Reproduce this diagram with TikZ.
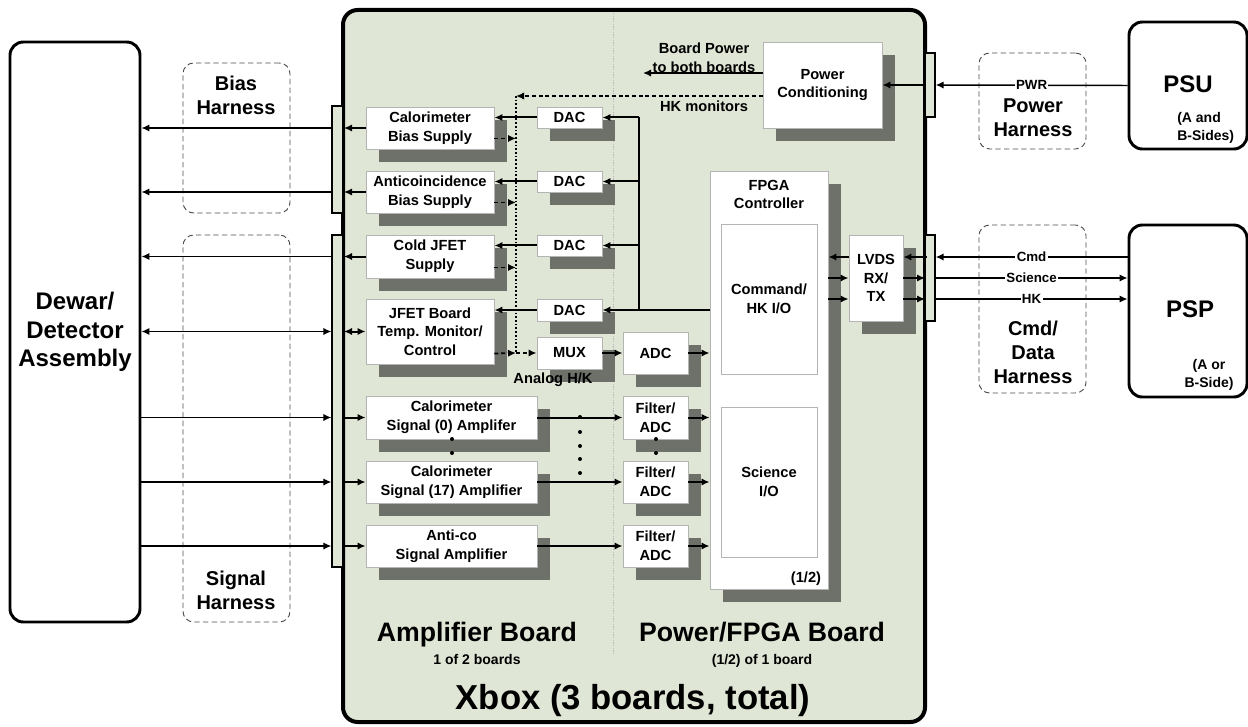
\documentclass[tikz,border=0pt]{standalone}
\usepackage{fontspec}
\setmainfont{Liberation Sans}
\usetikzlibrary{fit,calc,arrows.meta}
\definecolor{xfill}{HTML}{DFE6D5}
\definecolor{shc}{HTML}{6E706A}
\definecolor{bgr}{HTML}{B4B4B4}
\newcommand\shbox[6]{%
  \fill[shc] (#2+13,#3+13) rectangle (#4+13,#5+13);
  \node[wbox, fit={(#2,#3) (#4,#5)}] (#1) {};
  \node[lbl] at (#1.center) {#6};}
\newcommand\plainbox[6]{%
  \node[wbox, fit={(#2,#3) (#4,#5)}] (#1) {};
  \node[lbl] at (#1.center) {#6};}
\begin{document}
\begin{tikzpicture}[x=0.75pt,y=-0.75pt,
  >={Latex[length=6pt,width=5.5pt]},
  wbox/.style={draw=bgr, fill=white, line width=0.7pt, inner sep=0pt},
  harn/.style={draw=black!70, line width=0.7pt, dash pattern=on 4pt off 2.5pt,
    rounded corners=8pt, inner sep=0pt},
  extbox/.style={draw, line width=2.2pt, rounded corners=10pt, inner sep=0pt},
  strip/.style={draw, fill=xfill, line width=0.9pt, inner sep=0pt},
  wire/.style={line width=1.5pt},
  ewire/.style={line width=1.1pt},
  dwire/.style={line width=1.3pt, dash pattern=on 3pt off 2pt},
  lbl/.style={font=\bfseries\fontsize{11}{14}\selectfont, align=center, inner sep=0pt},
  tag/.style={font=\bfseries\fontsize{10}{12}\selectfont, fill=white, inner sep=1pt},
  big/.style={font=\bfseries\fontsize{18}{21.5}\selectfont, align=center, inner sep=0pt},
  hlbl/.style={font=\bfseries\fontsize{15}{18}\selectfont, align=center, inner sep=0pt},
  small/.style={font=\bfseries\fontsize{10.5}{13.5}\selectfont, align=left, inner sep=0pt}]
\useasboundingbox (0,0) rectangle (1248,727);

% ---------- Xbox ----------
\node[draw, line width=3pt, fill=xfill, rounded corners=11pt, inner sep=0pt,
      fit={(343,10) (925,722)}] (xbox) {};
\draw[gray!55, line width=0.6pt, dash pattern=on 1pt off 1pt] (613,13) -- (613,655);

% ---------- external units ----------
\node[extbox, fit={(10,42) (140,622)}] (dewar) {};
\node[big] at (75,332) {Dewar/\\Detector\\Assembly};
\node[extbox, fit={(1129,22) (1247,149)}] (psu) {};
\node[big] at (1188,84) {PSU};
\node[small, anchor=west] at (1177,128) {(A and\\B-Sides)};
\node[extbox, fit={(1129,225) (1247,397)}] (psp) {};
\node[big] at (1190,309) {PSP};
\node[small, align=center] at (1209,375) {(A or\\B-Side)};

% harnesses
\node[harn, fit={(183,63) (290,213)}] (bharn) {};
\node[hlbl] at (236,95) {Bias\\Harness};
\node[harn, fit={(183,235) (290,622)}] (sharn) {};
\node[hlbl] at (236,590) {Signal\\Harness};
\node[harn, fit={(979,53) (1086,149)}] (pharn) {};
\node[hlbl] at (1033,118) {Power\\Harness};
\node[harn, fit={(979,225) (1086,393)}] (charn) {};
\node[hlbl] at (1033,352) {Cmd/\\Data\\Harness};

% connector strips
\node[strip, fit={(332,106) (343,213)}] (bstrip) {};
\node[strip, fit={(332,235) (343,567)}] (sstrip) {};
\node[strip, fit={(925,53) (935,117)}] (pstrip) {};
\node[strip, fit={(925,235) (935,321)}] (cstrip) {};

% ---------- amplifier board ----------
\shbox{cbs}{366}{107}{494}{149}{Calorimeter\\Bias Supply}
\shbox{abs}{366}{171}{494}{213}{Anticoincidence\\Bias Supply}
\shbox{cjs}{366}{235}{494}{278}{Cold JFET\\Supply}
\shbox{jtm}{366}{299}{494}{364}{JFET Board\\Temp. Monitor/\\Control}
\shbox{amp0}{366}{396}{537}{439}{Calorimeter\\Signal (0) Amplifer}
\shbox{amp17}{366}{461}{537}{503}{Calorimeter\\Signal (17) Amplifier}
\shbox{acamp}{366}{525}{537}{567}{Anti-co\\Signal Amplifier}

\shbox{dac1}{537}{107}{602}{128}{DAC}
\shbox{dac2}{537}{171}{602}{192}{DAC}
\shbox{dac3}{537}{235}{602}{256}{DAC}
\shbox{dac4}{537}{299}{602}{321}{DAC}
\shbox{mux}{537}{337}{602}{369}{MUX}
\node[lbl] at (553,380) {Analog H/K};

% ---------- power/FPGA board ----------
\shbox{pc}{763}{42}{882}{128}{Power\\Conditioning}
\shbox{adc}{623}{332}{688}{374}{ADC}
\shbox{fa1}{623}{396}{688}{439}{Filter/\\ADC}
\shbox{fa2}{623}{461}{688}{503}{Filter/\\ADC}
\shbox{fa3}{623}{525}{688}{567}{Filter/\\ADC}
\shbox{fpga}{710}{171}{828}{589}{}
\node[lbl] at (769,194.5) {FPGA\\Controller};
\plainbox{cmdio}{721}{224}{817}{374}{Command/\\HK I/O}
\plainbox{sciio}{721}{407}{817}{557}{Science\\I/O}
\node[lbl] at (806,579) {(1/2)};
\shbox{lvds}{849}{235}{903}{321}{LVDS\\RX/\\TX}

% ---------- wires: Dewar <-> Xbox ----------
\draw[ewire,->] (bstrip.west |- cbs.west) -- (dewar.east |- cbs.west);
\draw[ewire,->] (bstrip.west |- abs.west) -- (dewar.east |- abs.west);
\draw[ewire,->] (sstrip.west |- cjs.west) -- (dewar.east |- cjs.west);
\draw[ewire,<->] (sstrip.west |- jtm.west) -- (dewar.east |- jtm.west);
\draw[ewire,<-] (sstrip.west |- amp0.west) -- (dewar.east |- amp0.west);
\draw[ewire,<-] (sstrip.west |- amp17.west) -- (dewar.east |- amp17.west);
\draw[ewire,<-] (sstrip.west |- acamp.west) -- (dewar.east |- acamp.west);

% inside, left edge
\draw[wire,->] (cbs.west) -- ($(cbs.west -| xbox.west)+(3,0)$);
\draw[wire,->] (abs.west) -- ($(abs.west -| xbox.west)+(3,0)$);
\draw[wire,->] (cjs.west) -- ($(cjs.west -| xbox.west)+(3,0)$);
\draw[wire,<->] (jtm.west) -- ($(jtm.west -| xbox.west)+(3,0)$);
\draw[wire,<-] (amp0.west) -- ($(amp0.west -| xbox.west)+(3,0)$);
\draw[wire,<-] (amp17.west) -- ($(amp17.west -| xbox.west)+(3,0)$);
\draw[wire,<-] (acamp.west) -- ($(acamp.west -| xbox.west)+(3,0)$);

% DACs to supplies
\draw[wire,->] (dac1.west) -- (dac1.west -| cbs.east);
\draw[wire,->] (dac2.west) -- (dac2.west -| abs.east);
\draw[wire,->] (dac3.west) -- (dac3.west -| cjs.east);
\draw[wire,->] (dac4.west) -- (dac4.west -| jtm.east);

% DAC bus from command / HK I/O
\coordinate (bus) at (639,0);
\draw[wire,->] (fpga.west |- dac4.east) -- (dac4.east);
\draw[wire] (bus |- dac1.east) -- (bus |- dac4.east);
\draw[wire,->] (bus |- dac1.east) -- (dac1.east);
\draw[wire,->] (bus |- dac2.east) -- (dac2.east);
\draw[wire,->] (bus |- dac3.east) -- (dac3.east);

% HK monitor bus
\coordinate (hktop) at (516,96);
\coordinate (hkbot) at (516,353);
\coordinate (h1) at ($(cbs.south east)+(0,-11)$);
\coordinate (h2) at ($(abs.south east)+(0,-11)$);
\coordinate (h3) at ($(cjs.south east)+(0,-11)$);
\coordinate (h4) at ($(jtm.south east)+(0,-11)$);
\draw[dwire,->] (pc.west |- hktop) -- (hktop);
\draw[line width=1.3pt, dash pattern=on 1.3pt off 1.5pt] (hktop) -- (hkbot);
\draw[dwire,->] (h1) -- (h1 -| hktop);
\draw[dwire,->] (h2) -- (h2 -| hktop);
\draw[dwire,->] (h3) -- (h3 -| hktop);
\draw[dwire,->] (h4) -- (hkbot);
\draw[dwire,->] (hkbot) -- (mux.west);
\node[lbl] at (704,106) {HK monitors};

% board power
\coordinate (bp) at (643,73);
\draw[wire,->] (pc.west |- bp) -- (bp);
\node[lbl] at (704,58) {Board Power\\to both boards};
\draw[wire,->] (pstrip.west) -- (pc.east);

% analog HK chain
\draw[wire,->] (mux.east) -- (adc.west);
\draw[wire,->] (adc.east) -- (adc.east -| fpga.west);

% signal chain
\draw[wire,->] (amp0.east) -- (fa1.west);
\draw[wire,->] (amp17.east) -- (fa2.west);
\draw[wire,->] (acamp.east) -- (fa3.west);
\draw[wire,->] (fa1.east) -- (fa1.east -| fpga.west);
\draw[wire,->] (fa2.east) -- (fa2.east -| fpga.west);
\draw[wire,->] (fa3.east) -- (fa3.east -| fpga.west);

% continuation dots
\foreach \y in {439,453} {
  \fill (452,\y) circle (2);
  \fill (656,\y) circle (2);
}
\foreach \y in {417,432,446,459,473} \fill (580,\y) circle (2);

% LVDS
\coordinate (l1) at ($(lvds.west)+(0,-21)$);
\coordinate (l3) at ($(lvds.west)+(0,21)$);
\draw[wire,->] (l1) -- (l1 -| fpga.east);
\draw[wire,<-] (lvds.west) -- (lvds.west -| fpga.east);
\draw[wire,<-] (l3) -- (l3 -| fpga.east);
\coordinate (m1) at ($(lvds.east)+(0,-21)$);
\coordinate (m3) at ($(lvds.east)+(0,21)$);
\draw[wire,<-] (m1) -- (m1 -| xbox.east);
\draw[wire,->] (lvds.east) -- ($(lvds.east -| xbox.east)+(-2,0)$);
\draw[wire,->] (m3) -- ($(m3 -| xbox.east)+(-2,0)$);

% external right-hand wires
\draw[ewire,->] (psu.west) -- (pstrip.east) node[midway, tag] {PWR};
\coordinate (r1) at ($(cstrip.east)+(0,-21)$);
\coordinate (r3) at ($(cstrip.east)+(0,21)$);
\draw[ewire,->] (r1 -| psp.west) -- (r1) node[midway, tag] {Cmd};
\draw[ewire,->] (cstrip.east) -- (cstrip.east -| psp.west) node[midway, tag] {Science};
\draw[ewire,->] (r3) -- (r3 -| psp.west) node[midway, tag] {HK};

% bottom titles
\node[anchor=base, font=\bfseries\fontsize{20}{24}\selectfont] at (477,641) {Amplifier Board};
\node[anchor=base, font=\bfseries\fontsize{10.5}{13}\selectfont] at (477,664) {1 of 2 boards};
\node[anchor=base, font=\bfseries\fontsize{20}{24}\selectfont] at (762,641) {Power/FPGA Board};
\node[anchor=base, font=\bfseries\fontsize{10.5}{13}\selectfont] at (762,664) {(1/2) of 1 board};
\node[anchor=base, font=\bfseries\fontsize{26}{30}\selectfont] at (633,709) {Xbox (3 boards, total)};
\end{tikzpicture}
\end{document}
